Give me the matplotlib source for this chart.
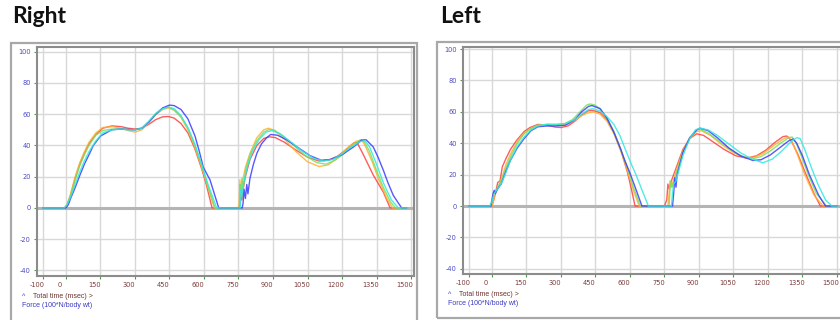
import numpy as np
import matplotlib.pyplot as plt
from matplotlib.patches import Rectangle
from matplotlib.transforms import ScaledTranslation

plt.rcParams["axes.unicode_minus"] = False

# axis ticks
XTICKS = [-100, 0, 150, 300, 450, 600, 750, 900, 1050, 1200, 1350, 1500]
YTICKS = [-40, -20, 0, 20, 40, 60, 80, 100]

# "Right" side: (time ms, force) per trial
R_RED = [(-100, 0), (-5, 0), (5, 2), (20, 8), (40, 19), (60, 28), (80, 35), (100, 41), (130, 47),
         (160, 51), (200, 52.5), (240, 52), (270, 51), (300, 50.5), (330, 51), (360, 53.5),
         (390, 56.5), (420, 58.3), (445, 58.5), (470, 57.5), (500, 54), (530, 48), (560, 38),
         (590, 25), (610, 15), (635, 0), (752, 0), (756, 3), (760, 10), (764, 5), (770, 12),
         (780, 20), (800, 31), (830, 40), (860, 44.5), (885, 45.5), (910, 45), (950, 42),
         (1000, 37), (1050, 32.5), (1100, 30), (1140, 30.5), (1180, 33), (1220, 37.5),
         (1250, 41.5), (1265, 42), (1293, 34), (1336, 21), (1380, 10), (1409, 0), (1480, 0)]
R_ORANGE = [(-100, 0), (-5, 0), (5, 2), (20, 9), (40, 20), (60, 29), (80, 36), (100, 42), (130, 48),
            (160, 51.5), (200, 52), (240, 51), (270, 49.5), (300, 48.5), (330, 50), (360, 54.5),
            (390, 59.5), (420, 63), (445, 64), (470, 62.5), (500, 58), (530, 50), (560, 39),
            (590, 26), (615, 14), (645, 0), (752, 0), (756, 18), (760, 8), (766, 16), (780, 26),
            (800, 35), (830, 45), (860, 50), (880, 51), (910, 49.5), (950, 44), (1000, 36),
            (1050, 29.5), (1100, 26.5), (1140, 27.5), (1180, 32), (1220, 38), (1260, 42.5),
            (1285, 43.5), (1300, 40), (1330, 30), (1360, 18), (1395, 6), (1420, 0), (1480, 0)]
R_GREEN = [(-100, 0), (-5, 0), (5, 2), (20, 8), (40, 18), (60, 27), (80, 34), (100, 40), (130, 46.5),
           (160, 49.5), (200, 50.5), (240, 50.5), (270, 50), (300, 50), (330, 51), (360, 55),
           (390, 60), (420, 63.5), (445, 64.5), (470, 63), (500, 58.5), (530, 51), (560, 40),
           (590, 27), (615, 15), (648, 0), (754, 0), (757, 15), (761, 9), (765, 19), (770, 12),
           (782, 25), (800, 34), (830, 43), (860, 48.5), (880, 50), (900, 50), (940, 46.5),
           (990, 40), (1040, 33.5), (1090, 29), (1130, 28), (1170, 30.5), (1210, 35),
           (1250, 40.5), (1280, 43.5), (1295, 43), (1320, 36), (1350, 24), (1380, 13),
           (1410, 4), (1432, 0), (1480, 0)]
R_BLUE = [(-100, 0), (0, 0), (10, 2), (20, 6), (40, 13), (58, 20), (80, 28), (100, 34), (119, 40),
          (150, 46), (199, 50), (240, 50.5), (300, 50), (330, 51), (360, 55),
          (390, 60), (420, 64), (450, 65.8), (470, 65.5), (500, 63), (530, 57), (561, 46),
          (580, 36), (597, 26), (615, 21), (626, 18), (645, 9), (664, 0), (766, 0), (770, 3),
          (774, 12), (780, 6), (786, 15), (791, 9), (800, 19), (815, 28), (830, 35), (850, 41),
          (873, 45), (890, 47), (920, 46.5), (960, 43.5), (1010, 38.5), (1060, 33.5),
          (1110, 30.5), (1150, 31), (1200, 34), (1250, 39), (1285, 43.4), (1305, 43.6),
          (1336, 39), (1358, 32), (1380, 24), (1400, 16), (1423, 8), (1459, 0), (1480, 0)]
R_CYAN = [(-100, 0), (-8, 0), (5, 2), (20, 7), (40, 15), (60, 23), (80, 30), (100, 36), (130, 43),
          (160, 48), (200, 50), (240, 50.5), (270, 50), (300, 50), (330, 51), (360, 55.5),
          (390, 60.5), (420, 63.5), (445, 64.5), (470, 63.5), (500, 59), (530, 51.5), (560, 41),
          (590, 28), (615, 16), (655, 0), (758, 0), (761, 12), (765, 7), (772, 16), (790, 27),
          (810, 36), (840, 44), (870, 48.5), (895, 49.5), (930, 47.5), (980, 42), (1030, 36),
          (1080, 31.5), (1120, 30), (1160, 31), (1200, 34.5), (1240, 39), (1280, 42.5),
          (1300, 43), (1320, 39), (1350, 28), (1380, 16), (1415, 5), (1445, 0), (1480, 0)]

# "Left" side
L_RED = [(-100, 0), (0, 0), (8, 4), (15, 8), (25, 15), (35, 16), (45, 25), (60, 30), (80, 36),
         (108, 42), (140, 47.5), (165, 50), (200, 52), (240, 51.5), (274, 50.3), (300, 50),
         (330, 51), (360, 54), (390, 58), (415, 60.5), (435, 61), (470, 59.5), (500, 55),
         (530, 47), (560, 36), (590, 21), (606, 11), (622, 0), (750, 0), (760, 4), (765, 14),
         (770, 11), (780, 16), (800, 24), (830, 36), (860, 43), (890, 46), (920, 45), (960, 41),
         (1010, 36), (1060, 32), (1108, 30.5), (1150, 32), (1190, 35.5), (1230, 40.5),
         (1265, 44.2), (1282, 44.6), (1300, 42), (1330, 33), (1360, 22), (1400, 8), (1428, 0),
         (1500, 0)]
L_ORANGE = [(-100, 0), (0, 0), (6, 3), (12, 8), (20, 10), (30, 13), (45, 19), (60, 26), (80, 33),
            (110, 41), (140, 46.5), (170, 49.5), (200, 51.5), (240, 52), (280, 51.5), (320, 52),
            (360, 54.5), (390, 57.5), (420, 59.5), (440, 60), (470, 58.5), (500, 54), (530, 46),
            (560, 35), (590, 22), (615, 10), (640, 0), (765, 0), (770, 8), (774, 16), (780, 12),
            (800, 22), (830, 35), (860, 43), (890, 47.5), (910, 48), (950, 45), (1000, 39),
            (1050, 34), (1100, 31), (1140, 31), (1180, 33.5), (1230, 39), (1270, 43), (1290, 44),
            (1305, 41), (1330, 32), (1360, 20), (1400, 7), (1440, 0), (1500, 0)]
L_GREEN = [(-100, 0), (-5, 0), (3, 4), (8, 9), (15, 9), (25, 12), (40, 16), (60, 24), (80, 31),
           (110, 40), (140, 46), (170, 49.5), (200, 51.5), (240, 52), (280, 52), (315, 52.5),
           (350, 55), (383, 60), (412, 64.3), (425, 65), (445, 64.5), (470, 62), (500, 56),
           (530, 47.5), (560, 36), (590, 24), (615, 12), (645, 0), (770, 0), (774, 10),
           (778, 16), (784, 12), (800, 20), (830, 34), (860, 43.5), (890, 48.5), (905, 49),
           (940, 46.5), (990, 41), (1040, 35.5), (1090, 31.5), (1130, 30), (1170, 31.5),
           (1210, 35), (1250, 39.5), (1290, 43.5), (1305, 44), (1320, 41), (1345, 32),
           (1375, 20), (1410, 8), (1455, 0), (1500, 0)]
L_BLUE = [(-100, 0), (-5, 0), (0, 4), (5, 8), (10, 10), (15, 8), (25, 11), (40, 14), (60, 22),
          (80, 29), (110, 37), (140, 43), (170, 48), (200, 50.5), (240, 51), (280, 51),
          (320, 51.5), (360, 55), (390, 60), (420, 63.5), (435, 64), (470, 62), (500, 56),
          (530, 47), (560, 36), (580, 28), (600, 21), (625, 11), (652, 0), (785, 0), (790, 8),
          (795, 18), (800, 12), (805, 20), (830, 34), (860, 43.5), (890, 48.5), (905, 49.6),
          (940, 48), (980, 43.5), (1030, 37), (1080, 32), (1135, 29), (1170, 29.5), (1210, 32.5),
          (1250, 37), (1290, 41.5), (1309, 42.7), (1325, 40), (1350, 32), (1380, 20),
          (1420, 7), (1450, 0), (1500, 0)]
L_CYAN = [(-100, 0), (-10, 0), (0, 3), (10, 8), (25, 11), (40, 14), (60, 21), (80, 29), (110, 38),
          (140, 44), (170, 48.5), (200, 51), (240, 52), (280, 52), (320, 52.5), (360, 55),
          (390, 58.5), (420, 61.5), (440, 62), (470, 60.5), (500, 57), (530, 52), (556, 45),
          (580, 36), (605, 27), (629, 19), (650, 11), (680, 0), (780, 0), (785, 8), (790, 14),
          (800, 16), (830, 32), (860, 43), (885, 48.5), (905, 49.6), (940, 48.5), (980, 45),
          (1030, 39.5), (1080, 34), (1130, 30), (1178, 27.5), (1220, 30), (1260, 35),
          (1300, 41), (1325, 43.5), (1340, 43), (1360, 36), (1390, 24), (1420, 13), (1450, 4),
          (1478, 0), (1500, 0)]

COLORS = {"red": "#ff4040", "orange": "#ffb030", "green": "#78e060",
          "blue": "#3a3aff", "cyan": "#30e8e0"}

fig = plt.figure(figsize=(8.4, 3.2), dpi=100)
W, H = 840.0, 320.0


def fx(px):
    return px / W


def fy(py):
    return 1 - py / H


# outer frames
for x0, y0, x1, y1 in [(11, 43, 417, 324), (437, 42, 850, 318)]:
    fig.patches.append(Rectangle((fx(x0), fy(y1)), fx(x1) - fx(x0), fy(y0) - fy(y1),
                                 transform=fig.transFigure, fill=False,
                                 ec="#a8a8a8", lw=1.6))


def draw_panel(ax, curves, ylim, xlim):
    ax.set_xlim(*xlim)
    ax.set_ylim(*ylim)
    ax.set_xticks(XTICKS)
    ax.set_yticks(YTICKS)
    ax.set_xticklabels([str(t) for t in XTICKS])
    ax.grid(color="#d8d8d8", lw=1.0)
    ax.set_axisbelow(True)
    ax.axhline(0, color="#b4b4b4", lw=2.2, zorder=1)
    for s in ax.spines.values():
        s.set_color("#8c8c8c")
        s.set_linewidth(1.5)
    ax.tick_params(axis="x", colors="#3fa63f", labelcolor="#7a3a3a", length=2.5,
                   width=0.8, labelsize=4.8, pad=1.5)
    ax.tick_params(axis="y", colors="#3fa63f", labelcolor="#4a4ac8", length=2.5,
                   width=0.8, labelsize=4.8, pad=2)
    off = ScaledTranslation(-6 / 100, 0, fig.dpi_scale_trans)
    for lab in ax.get_xticklabels():
        lab.set_transform(lab.get_transform() + off)
    for name, pts in curves:
        a = np.array(pts)
        ax.plot(a[:, 0], a[:, 1], color=COLORS[name], lw=1.0, alpha=0.85, zorder=3)


ax1 = fig.add_axes([fx(37), fy(276), fx(414) - fx(37), fy(47) - fy(276)])
draw_panel(ax1, [("red", R_RED), ("orange", R_ORANGE), ("green", R_GREEN),
                 ("blue", R_BLUE), ("cyan", R_CYAN)], (-43.6, 103), (-126, 1513))

ax2 = fig.add_axes([fx(463), fy(274), fx(845) - fx(463), fy(47) - fy(274)])
draw_panel(ax2, [("red", L_RED), ("orange", L_ORANGE), ("green", L_GREEN),
                 ("blue", L_BLUE), ("cyan", L_CYAN)], (-43.3, 101.3), (-126, 1535))

# titles and axis notes
for x, title in [(12, "Right"), (440, "Left")]:
    fig.text(fx(x), fy(23), title, fontsize=16.5, fontweight="bold", family="Lato",
             color="#111111", va="baseline")

for x, y in [(22, 296), (448, 294)]:
    fig.text(fx(x), fy(y), "^", fontsize=5, color="#3a3ac0", va="center",
             family="Liberation Sans")
    fig.text(fx(x + 11), fy(y), "Total time (msec) >", fontsize=5, color="#6e3030",
             va="center", family="Liberation Sans")
    fig.text(fx(x), fy(y + 9.5), "Force (100*N/body wt)", fontsize=5, color="#3a3ac0",
             va="center", family="Liberation Sans")

fig.savefig("out.png", dpi=100)
